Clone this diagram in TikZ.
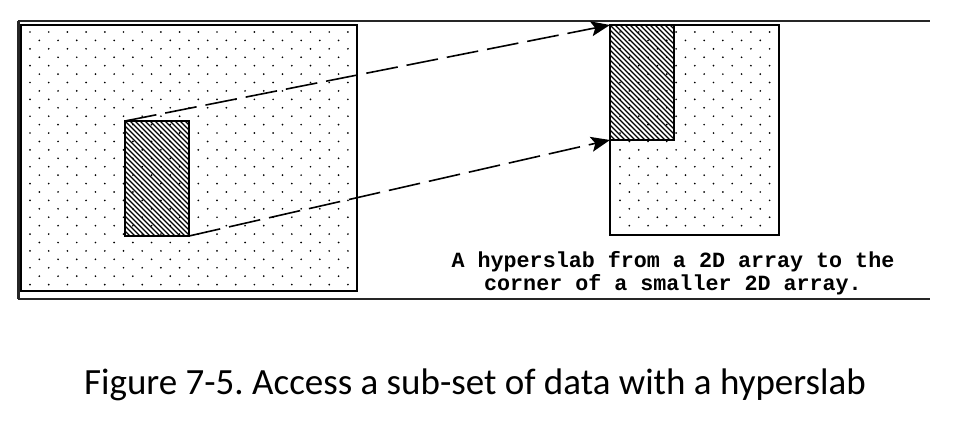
\documentclass[tikz,border=0pt]{standalone}
\usepackage{fontspec}
\setmainfont{Carlito}
\newfontfamily\monofont{Liberation Mono}
\usetikzlibrary{arrows.meta}
\frenchspacing
\begin{document}
\begin{tikzpicture}[x=1pt,y=-1pt,
  frameline/.style={line width=2pt,draw=black!85},
  arr/.style={draw,line width=1.6pt,inner sep=0pt,outer sep=0pt,anchor=north west},
  hatch/.style={line width=1.15pt},
  dasharrow/.style={line width=1.6pt,dash pattern=on 32pt off 9pt,-{Stealth[length=19pt,width=15pt,inset=4pt]}},
  dotc/.style={fill=black},
  lbl/.style={font=\monofont\bfseries\fontsize{21.7}{23}\selectfont,anchor=base,inner sep=0pt}]
\useasboundingbox (0,0) rectangle (958,423);
% outer frame
\coordinate (ftl) at (18,21);
\coordinate (ftr) at (930,21);
\coordinate (fbl) at (18,299);
\coordinate (fbr) at (930,299);
\draw[frameline] (ftl) -- (ftr);
\draw[frameline] (fbl) -- (fbr);
\draw[line width=3pt,draw=black!85] (ftl) -- (fbl);
% dots big array
\foreach \r in {0,...,30}{
  \pgfmathsetmacro\yy{32+\r*8.42}
  \ifodd\r
    \foreach \c in {0,...,16}{\fill[dotc] (39.35+\c*18.7,\yy) circle (0.95);}
  \else
    \foreach \c in {0,...,17}{\fill[dotc] (30+\c*18.7,\yy) circle (0.95);}
  \fi
}
% dots small array
\foreach \r in {0,...,23}{
  \pgfmathsetmacro\yy{32+\r*8.42}
  \ifodd\r
    \foreach \c in {0,...,7}{\fill[dotc] (629.35+\c*18.7,\yy) circle (0.95);}
  \else
    \foreach \c in {0,...,8}{\fill[dotc] (620+\c*18.7,\yy) circle (0.95);}
  \fi
}
% hatching
\begin{scope}
  \clip (125,121) rectangle (189,236);
  \foreach \i in {-25,...,14}{\draw[hatch] (125+\i*5,121) -- ++(130,130);}
\end{scope}
\begin{scope}
  \clip (610,25) rectangle (674,140);
  \foreach \i in {-25,...,14}{\draw[hatch] (610+\i*5,25) -- ++(130,130);}
\end{scope}
% rectangles
\node[arr,minimum width=336pt,minimum height=266pt] (big) at (21,25) {};
\node[arr,minimum width=169pt,minimum height=210pt] (small) at (610,25) {};
\node[arr,minimum width=64pt,minimum height=115pt] (slabL) at (125,121) {};
\node[arr,minimum width=64pt,minimum height=115pt] (slabR) at (610,25) {};
% arrows
\draw[dasharrow] (slabL.north west) -- (slabR.north west);
\draw[dasharrow] (slabL.south east) -- (slabR.south west);
% texts
\node[lbl] (t1) at (673,267) {A hyperslab from a 2D array to the};
\node[lbl] (t2) at (673,290) {corner of a smaller 2D array.};
\node[font=\fontsize{37}{42}\selectfont,anchor=base,inner sep=0pt] (cap) at (475,394) {Figure 7-5. Access a sub-set of data with a hyperslab};
\end{tikzpicture}
\end{document}
